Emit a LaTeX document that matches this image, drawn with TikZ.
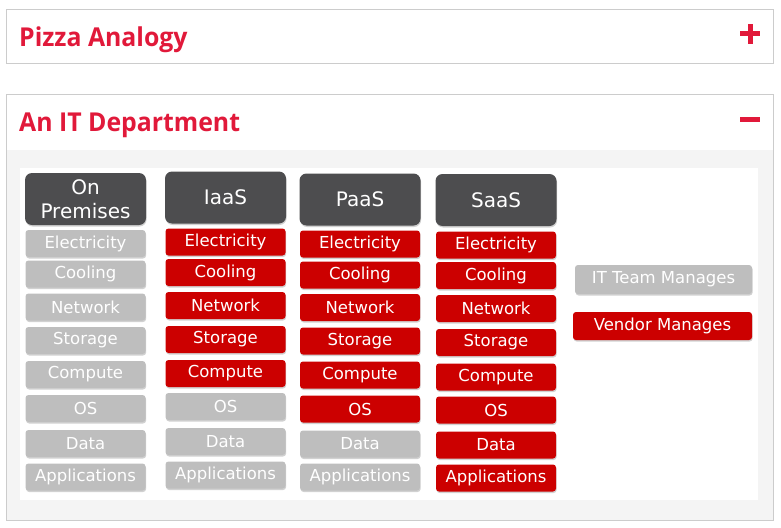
\documentclass[tikz,border=0pt]{standalone}
\usepackage{fontspec}
\setmainfont{DejaVu Sans}
\newfontfamily\titlefont{Open Sans}
\usetikzlibrary{shadows}
\definecolor{tred}{HTML}{E1193A}
\definecolor{cred}{HTML}{CC0000}
\definecolor{cgrey}{HTML}{BEBEBE}
\definecolor{hdark}{HTML}{4D4D4F}
\definecolor{bline}{HTML}{CCCCCC}
\definecolor{panelbg}{HTML}{F4F4F4}
\tikzset{
  cellbase/.style={rounded corners=3pt, minimum width=120pt, minimum height=27pt, inner sep=0pt,
    text=white, font=\fontsize{16.5}{16.5}\selectfont,
    drop shadow={shadow xshift=0.6pt, shadow yshift=-1.5pt, fill=black, opacity=0.18}},
  rc/.style={cellbase, fill=cred},
  gc/.style={cellbase, fill=cgrey},
  headbox/.style={rounded corners=7pt, fill=hdark, minimum width=121pt, minimum height=52pt,
    inner sep=0pt, text=white, font=\fontsize{20}{24}\selectfont, align=center,
    drop shadow={shadow xshift=0.6pt, shadow yshift=-1.5pt, fill=black, opacity=0.18}},
  ttl/.style={anchor=base west, inner sep=0pt, text=tred, font=\titlefont\bfseries\fontsize{26}{26}\selectfont},
  frame/.style={draw=bline, line width=1pt}
}
\begin{document}
\begin{tikzpicture}[x=1pt,y=-1pt]
\useasboundingbox (0,0) rectangle (781,527);
\fill[white] (0,0) rectangle (781,527);
% panel 1
\draw[frame] (6.5,9.5) rectangle (773.5,63.5);
\node[ttl] (t1) at (19,47) {\scalebox{0.955}[1]{Pizza Analogy}};
\fill[tred] (740,31.5) rectangle (760,36.5);
\fill[tred] (747.5,24) rectangle (752.5,44);
% panel 2
\fill[panelbg] (7,150) rectangle (773,520);
\fill[white] (20,168) rectangle (758,500);
\draw[frame] (6.5,94.5) rectangle (773.5,520.5);
\node[ttl] (t2) at (19,131.5) {\scalebox{0.955}[1]{An IT Department}};
\fill[tred] (740,116.5) rectangle (760,121.5);
% headers
\node[headbox] (h1) at (85.5,199) {On\\Premises};
\node[headbox] (h2) at (225.5,197.5) {IaaS};
\node[headbox] (h3) at (360,199.5) {PaaS};
\node[headbox] (h4) at (496,200) {SaaS};
% column 1
\foreach \y/\t/\n in {243.5/Electricity/1,274/Cooling/2,307/Network/3,340.5/Storage/4,374.5/Compute/5,408.5/OS/6,443.5/Data/7,477/Applications/8}
  \node[gc] (a\n) at (85.5,\y) {\t};
% column 2
\foreach \y/\t/\s/\n in {242/Electricity/rc/1,272.5/Cooling/rc/2,305.5/Network/rc/3,339.5/Storage/rc/4,373.5/Compute/rc/5,406.5/OS/gc/6,441.5/Data/gc/7,475/Applications/gc/8}
  \node[\s] (b\n) at (225.5,\y) {\t};
% column 3
\foreach \y/\t/\s/\n in {244/Electricity/rc/1,275/Cooling/rc/2,307.5/Network/rc/3,341/Storage/rc/4,375/Compute/rc/5,409/OS/rc/6,444/Data/gc/7,477/Applications/gc/8}
  \node[\s] (c\n) at (360,\y) {\t};
% column 4
\foreach \y/\t/\n in {245/Electricity/1,275.5/Cooling/2,308.5/Network/3,342.5/Storage/4,377/Compute/5,410/OS/6,445/Data/7,478/Applications/8}
  \node[rc] (d\n) at (496,\y) {\t};
% legend
\node[gc, minimum width=177pt, minimum height=29pt] (l1) at (663.5,279.5) {IT Team Manages};
\node[rc, minimum width=179pt, minimum height=28pt] (l2) at (662.5,326) {Vendor Manages};
\end{tikzpicture}
\end{document}
